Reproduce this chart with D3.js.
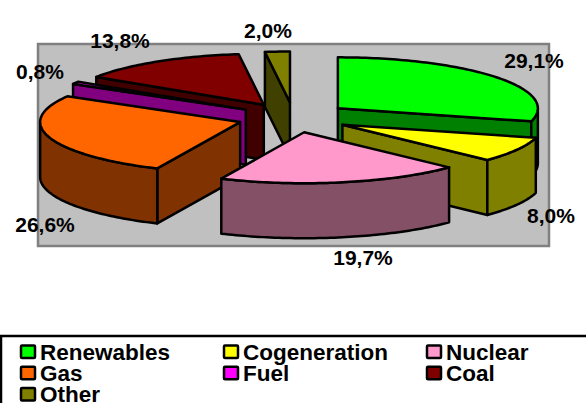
<!DOCTYPE html>
<html>
<head>
  <meta charset="UTF-8" />
  <title>Energy mix</title>
  <script src="https://cdn.jsdelivr.net/npm/d3@7"></script>
  <style>
    body, html { margin:0; padding:0; background:#fff; }
    svg { display:block; }
    text { font: bold 21px "Liberation Sans", Arial, sans-serif; fill:#000; }
    .item text { font-size: 22.5px; }
    .face { stroke:#000; stroke-width:2.5; stroke-linejoin:round; }
  </style>
</head>
<body>
  <svg id="chart" width="586" height="403"></svg>
  <script>
    const categories = ['Renewables', 'Cogeneration', 'Nuclear', 'Gas', 'Fuel', 'Coal', 'Other'];
    const shares = [29.1, 8.0, 19.7, 26.6, 0.8, 13.8, 2.0];
    const shareLabels = ['29,1%', '8,0%', '19,7%', '26,6%', '0,8%', '13,8%', '2,0%'];
    const topColors = ['#00ff00', '#ffff00', '#ff99cc', '#ff6600', '#ff00ff', '#800000', '#808000'];
    const sideColors = ['#008000', '#808000', '#845066', '#803300', '#800080', '#400000', '#404000'];

    // label centres, in pixels (same order as categories)
    const labelPos = [[534, 62], [551, 217], [363, 259], [45, 226], [40, 73], [120, 42], [268, 32]];

    const width = 586, height = 403;
    const explodeX = 0.28, explodeY = 0.294;
    const depth = 55;

    // unit ellipse -> screen
    const x = d3.scaleLinear().domain([-1, 1]).range([293.5 - 200, 293.5 + 200]);
    const y = d3.scaleLinear().domain([-1, 1]).range([117.5 - 51, 117.5 + 51]);

    const svg = d3.select('#chart');

    // plot area
    svg.append('rect')
      .attr('x', 38).attr('y', 44)
      .attr('width', 511).attr('height', 202)
      .attr('fill', '#c0c0c0')
      .attr('stroke', '#808080')
      .attr('stroke-width', 2.5);

    const pie = d3.pie().sort(null).startAngle(0).endAngle(2 * Math.PI);
    const slices = pie(shares).map((d, i) => {
      const mid = (d.startAngle + d.endAngle) / 2;
      return { ...d, i, mid, ox: explodeX * Math.sin(mid), oy: -explodeY * Math.cos(mid) };
    });

    // point on the slice's top face, r = 0 is the apex, r = 1 the rim
    const pt = (s, a, r, drop) => [
      x(s.ox + r * Math.sin(a)),
      y(s.oy - r * Math.cos(a)) + (drop || 0)
    ];

    const line = d3.line();
    const arcAngles = (a0, a1) => {
      const n = Math.max(2, Math.ceil((a1 - a0) / 0.02));
      return d3.range(n + 1).map(k => a0 + (a1 - a0) * k / n);
    };

    function radialFace(g, s, a) {
      g.append('path')
        .attr('class', 'face')
        .attr('fill', sideColors[s.i])
        .attr('d', line([pt(s, a, 0), pt(s, a, 1), pt(s, a, 1, depth), pt(s, a, 0, depth)]) + 'Z');
    }

    // back slices first, front slices over them
    const order = slices.slice().sort((a, b) => Math.cos(b.mid) - Math.cos(a.mid));

    order.forEach(s => {
      const g = svg.append('g');

      // side cuts, only the ones turned to the viewer
      if (Math.sin(s.startAngle) < -1e-6) radialFace(g, s, s.startAngle);
      if (Math.sin(s.endAngle) > 1e-6) radialFace(g, s, s.endAngle);

      // rim wall, the front half of the ellipse only
      const a0 = Math.max(s.startAngle, Math.PI / 2);
      const a1 = Math.min(s.endAngle, 3 * Math.PI / 2);
      if (a1 > a0) {
        const rim = arcAngles(a0, a1);
        const pts = rim.map(a => pt(s, a, 1)).concat(rim.slice().reverse().map(a => pt(s, a, 1, depth)));
        g.append('path')
          .attr('class', 'face')
          .attr('fill', sideColors[s.i])
          .attr('d', line(pts) + 'Z');
      }

      // top
      const topPts = [pt(s, 0, 0)].concat(arcAngles(s.startAngle, s.endAngle).map(a => pt(s, a, 1)));
      g.append('path')
        .attr('class', 'face')
        .attr('fill', topColors[s.i])
        .attr('d', line(topPts) + 'Z');
    });

    // value labels
    svg.selectAll('text.value')
      .data(shareLabels)
      .enter().append('text')
      .attr('class', 'value')
      .attr('x', (d, i) => labelPos[i][0])
      .attr('y', (d, i) => labelPos[i][1])
      .attr('text-anchor', 'middle')
      .attr('dominant-baseline', 'middle')
      .text(d => d);

    // legend box, runs off the right and bottom edges
    svg.append('path')
      .attr('d', `M1,${height + 2}V336H${width + 2}`)
      .attr('fill', 'none')
      .attr('stroke', '#000')
      .attr('stroke-width', 2.5);

    const col = d3.scalePoint().domain(d3.range(3)).range([21, 427]);
    const row = d3.scalePoint().domain(d3.range(3)).range([345.5, 388]);

    const items = svg.selectAll('g.item')
      .data(categories)
      .enter().append('g')
      .attr('class', 'item')
      .attr('transform', (d, i) => `translate(${col(i % 3)},${row(Math.floor(i / 3))})`);

    items.append('rect')
      .attr('width', 14).attr('height', 12.5)
      .attr('rx', 1)
      .attr('fill', (d, i) => topColors[i])
      .attr('stroke', '#000')
      .attr('stroke-width', 2.5);

    items.append('text')
      .attr('x', 19)
      .attr('y', 14)
      .text(d => d);
  </script>
</body>
</html>
